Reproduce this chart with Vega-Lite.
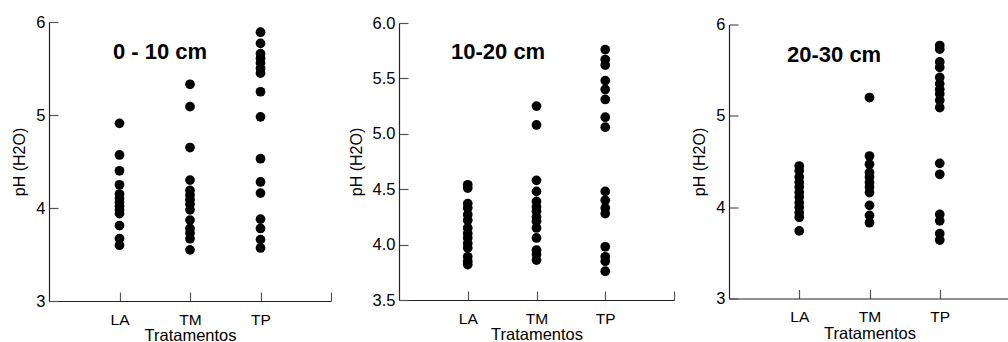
{
  "$schema": "https://vega.github.io/schema/vega-lite/v6.json",
  "background": "white",
  "padding": {"left": 11, "top": 14, "right": 0, "bottom": 0},
  "center": true,
  "spacing": 16,
  "config": {
    "view": {"stroke": null},
    "font": "Liberation Sans",
    "axis": {
      "grid": false,
      "labelFont": "Liberation Sans",
      "titleFont": "Liberation Sans",
      "labelColor": "#000",
      "titleColor": "#000",
      "titleFontWeight": "normal",
      "domainColor": "#222",
      "domainWidth": 1.2,
      "tickColor": "#555",
      "tickSize": -9,
      "tickWidth": 1.2
    },
    "axisX": {"labelFontSize": 15.5, "titleFontSize": 16.5, "labelPadding": 20, "titlePadding": 0, "labelAngle": 0},
    "axisY": {"labelFontSize": 16.5, "titleFontSize": 16, "labelPadding": 13, "titlePadding": 8},
    "title": {"font": "Liberation Sans", "fontSize": 22, "fontWeight": "bold", "color": "#000", "anchor": "start", "frame": "group", "baseline": "alphabetic", "orient": "top"}
  },
  "datasets": {
    "p1": [
      {"trat": "LA", "ph": 4.91}, {"trat": "LA", "ph": 4.57}, {"trat": "LA", "ph": 4.40}, {"trat": "LA", "ph": 4.25},
      {"trat": "LA", "ph": 4.15}, {"trat": "LA", "ph": 4.10}, {"trat": "LA", "ph": 4.06}, {"trat": "LA", "ph": 4.02},
      {"trat": "LA", "ph": 3.98}, {"trat": "LA", "ph": 3.94}, {"trat": "LA", "ph": 3.81}, {"trat": "LA", "ph": 3.67},
      {"trat": "LA", "ph": 3.60},
      {"trat": "TM", "ph": 5.33}, {"trat": "TM", "ph": 5.09}, {"trat": "TM", "ph": 4.65}, {"trat": "TM", "ph": 4.30},
      {"trat": "TM", "ph": 4.19}, {"trat": "TM", "ph": 4.14}, {"trat": "TM", "ph": 4.09}, {"trat": "TM", "ph": 4.04},
      {"trat": "TM", "ph": 3.98}, {"trat": "TM", "ph": 3.87}, {"trat": "TM", "ph": 3.78}, {"trat": "TM", "ph": 3.73},
      {"trat": "TM", "ph": 3.67}, {"trat": "TM", "ph": 3.55},
      {"trat": "TP", "ph": 5.89}, {"trat": "TP", "ph": 5.77}, {"trat": "TP", "ph": 5.66}, {"trat": "TP", "ph": 5.61},
      {"trat": "TP", "ph": 5.56}, {"trat": "TP", "ph": 5.50}, {"trat": "TP", "ph": 5.45}, {"trat": "TP", "ph": 5.25},
      {"trat": "TP", "ph": 4.98}, {"trat": "TP", "ph": 4.53}, {"trat": "TP", "ph": 4.28}, {"trat": "TP", "ph": 4.16},
      {"trat": "TP", "ph": 3.88}, {"trat": "TP", "ph": 3.78}, {"trat": "TP", "ph": 3.66}, {"trat": "TP", "ph": 3.57}
    ],
    "p2": [
      {"trat": "LA", "ph": 4.54}, {"trat": "LA", "ph": 4.51}, {"trat": "LA", "ph": 4.37}, {"trat": "LA", "ph": 4.33},
      {"trat": "LA", "ph": 4.27}, {"trat": "LA", "ph": 4.22}, {"trat": "LA", "ph": 4.15}, {"trat": "LA", "ph": 4.10},
      {"trat": "LA", "ph": 4.06}, {"trat": "LA", "ph": 4.01}, {"trat": "LA", "ph": 3.97}, {"trat": "LA", "ph": 3.89},
      {"trat": "LA", "ph": 3.85}, {"trat": "LA", "ph": 3.82},
      {"trat": "TM", "ph": 5.25}, {"trat": "TM", "ph": 5.08}, {"trat": "TM", "ph": 4.58}, {"trat": "TM", "ph": 4.48},
      {"trat": "TM", "ph": 4.39}, {"trat": "TM", "ph": 4.34}, {"trat": "TM", "ph": 4.30}, {"trat": "TM", "ph": 4.25},
      {"trat": "TM", "ph": 4.21}, {"trat": "TM", "ph": 4.15}, {"trat": "TM", "ph": 4.06}, {"trat": "TM", "ph": 3.95},
      {"trat": "TM", "ph": 3.91}, {"trat": "TM", "ph": 3.86},
      {"trat": "TP", "ph": 5.76}, {"trat": "TP", "ph": 5.67}, {"trat": "TP", "ph": 5.62}, {"trat": "TP", "ph": 5.48},
      {"trat": "TP", "ph": 5.40}, {"trat": "TP", "ph": 5.31}, {"trat": "TP", "ph": 5.15}, {"trat": "TP", "ph": 5.06},
      {"trat": "TP", "ph": 4.48}, {"trat": "TP", "ph": 4.40}, {"trat": "TP", "ph": 4.33}, {"trat": "TP", "ph": 4.28},
      {"trat": "TP", "ph": 3.98}, {"trat": "TP", "ph": 3.89}, {"trat": "TP", "ph": 3.85}, {"trat": "TP", "ph": 3.76}
    ],
    "p3": [
      {"trat": "LA", "ph": 4.45}, {"trat": "LA", "ph": 4.40}, {"trat": "LA", "ph": 4.33}, {"trat": "LA", "ph": 4.27},
      {"trat": "LA", "ph": 4.22}, {"trat": "LA", "ph": 4.16}, {"trat": "LA", "ph": 4.11}, {"trat": "LA", "ph": 4.05},
      {"trat": "LA", "ph": 4.00}, {"trat": "LA", "ph": 3.94}, {"trat": "LA", "ph": 3.89}, {"trat": "LA", "ph": 3.74},
      {"trat": "TM", "ph": 5.20}, {"trat": "TM", "ph": 4.56}, {"trat": "TM", "ph": 4.47}, {"trat": "TM", "ph": 4.38},
      {"trat": "TM", "ph": 4.33}, {"trat": "TM", "ph": 4.27}, {"trat": "TM", "ph": 4.22}, {"trat": "TM", "ph": 4.16},
      {"trat": "TM", "ph": 4.02}, {"trat": "TM", "ph": 3.91}, {"trat": "TM", "ph": 3.83},
      {"trat": "TP", "ph": 5.77}, {"trat": "TP", "ph": 5.73}, {"trat": "TP", "ph": 5.59}, {"trat": "TP", "ph": 5.53},
      {"trat": "TP", "ph": 5.42}, {"trat": "TP", "ph": 5.35}, {"trat": "TP", "ph": 5.29}, {"trat": "TP", "ph": 5.24},
      {"trat": "TP", "ph": 5.17}, {"trat": "TP", "ph": 5.09}, {"trat": "TP", "ph": 4.48}, {"trat": "TP", "ph": 4.36},
      {"trat": "TP", "ph": 3.92}, {"trat": "TP", "ph": 3.85}, {"trat": "TP", "ph": 3.71}, {"trat": "TP", "ph": 3.64}
    ]
  },
  "hconcat": [
    {
      "width": 282, "height": 279,
      "data": {"name": "p1"},
      "title": {"text": "0 - 10 cm", "dx": 64, "offset": -50},
      "mark": {"type": "circle", "size": 95, "color": "#000", "opacity": 1},
      "encoding": {
        "x": {"field": "trat", "type": "nominal", "scale": {"type": "point", "domain": ["LA", "TM", "TP", " "], "padding": 0.5, "align": 1}, "axis": {"title": "Tratamentos"}},
        "y": {"field": "ph", "type": "quantitative", "scale": {"domain": [3, 6], "nice": false, "zero": false}, "axis": {"values": [3, 4, 5, 6], "title": "pH (H2O)"}}
      }
    },
    {
      "width": 275, "height": 277,
      "data": {"name": "p2"},
      "title": {"text": "10-20 cm", "dx": 52, "offset": -49},
      "mark": {"type": "circle", "size": 95, "color": "#000", "opacity": 1},
      "encoding": {
        "x": {"field": "trat", "type": "nominal", "scale": {"type": "point", "domain": ["LA", "TM", "TP", " "], "padding": 0.5, "align": 1}, "axis": {"title": "Tratamentos"}},
        "y": {"field": "ph", "type": "quantitative", "scale": {"domain": [3.5, 6], "nice": false, "zero": false}, "axis": {"values": [3.5, 4, 4.5, 5, 5.5, 6], "format": ".1f", "title": "pH (H2O)"}}
      }
    },
    {
      "width": 281, "height": 274,
      "data": {"name": "p3"},
      "title": {"text": "20-30 cm", "dx": 58, "offset": -50},
      "mark": {"type": "circle", "size": 95, "color": "#000", "opacity": 1},
      "encoding": {
        "x": {"field": "trat", "type": "nominal", "scale": {"type": "point", "domain": ["LA", "TM", "TP", " "], "padding": 0.5, "align": 1}, "axis": {"title": "Tratamentos"}},
        "y": {"field": "ph", "type": "quantitative", "scale": {"domain": [3, 6], "nice": false, "zero": false}, "axis": {"values": [3, 4, 5, 6], "title": "pH (H2O)"}}
      }
    }
  ]
}
